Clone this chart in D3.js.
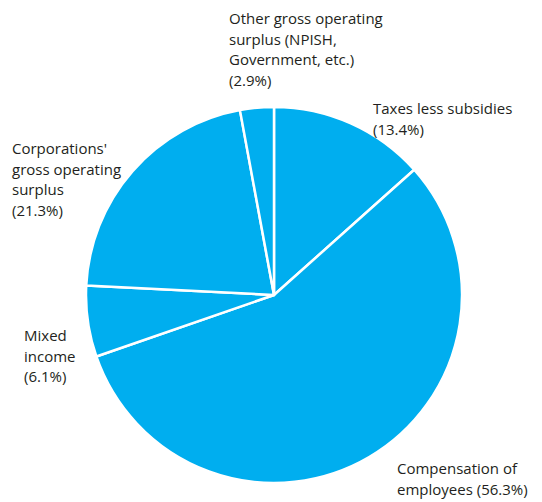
<!DOCTYPE html>
<html>
<head>
<meta charset="utf-8">
<script src="https://cdn.jsdelivr.net/npm/d3@7"></script>
<style>
  html, body { margin: 0; padding: 0; background: #fff; }
  svg { display: block; }
  text { font-family: "Open Sans", "Noto Sans", sans-serif; font-size: 15px; fill: #231f20; }
</style>
</head>
<body>
<svg id="chart" width="542" height="502"></svg>
<script>
// Components of GDP (income approach), shares in percent
const categories = [
  "Taxes less subsidies",
  "Compensation of employees",
  "Mixed income",
  "Corporations' gross operating surplus",
  "Other gross operating surplus (NPISH, Government, etc.)"
];
const shares = [13.4, 56.3, 6.1, 21.3, 2.9];
const labelLines = [
  ["Taxes less subsidies", "(13.4%)"],
  ["Compensation of", "employees (56.3%)"],
  ["Mixed", "income", "(6.1%)"],
  ["Corporations'", "gross operating", "surplus", "(21.3%)"],
  ["Other gross operating", "surplus (NPISH,", "Government, etc.)", "(2.9%)"]
];
// top-left anchor of each label block
const labelPos = [
  [373, 114],
  [397, 474],
  [24, 341],
  [12, 154],
  [229, 24]
];

const svg = d3.select("#chart");
const cx = 274, cy = 295, radius = 188;

const data = categories.map((c, i) => ({ name: c, value: shares[i], lines: labelLines[i], pos: labelPos[i] }));

const pie = d3.pie().value(d => d.value).sort(null);
const arc = d3.arc().innerRadius(0).outerRadius(radius);

const g = svg.append("g").attr("transform", `translate(${cx},${cy})`);
g.selectAll("path")
  .data(pie(data))
  .join("path")
  .attr("d", arc)
  .attr("fill", "#00aeef")
  .attr("stroke", "#ffffff")
  .attr("stroke-width", 2.5)
  .attr("stroke-linejoin", "round");

const lineH = 20.5;
svg.selectAll("text.lbl")
  .data(data)
  .join("text")
  .attr("class", "lbl")
  .attr("x", d => d.pos[0])
  .attr("y", d => d.pos[1])
  .each(function(d) {
    d3.select(this).selectAll("tspan")
      .data(d.lines)
      .join("tspan")
      .attr("x", d.pos[0])
      .attr("dy", (t, i) => i === 0 ? 0 : lineH)
      .text(t => t);
  });
</script>
</body>
</html>
